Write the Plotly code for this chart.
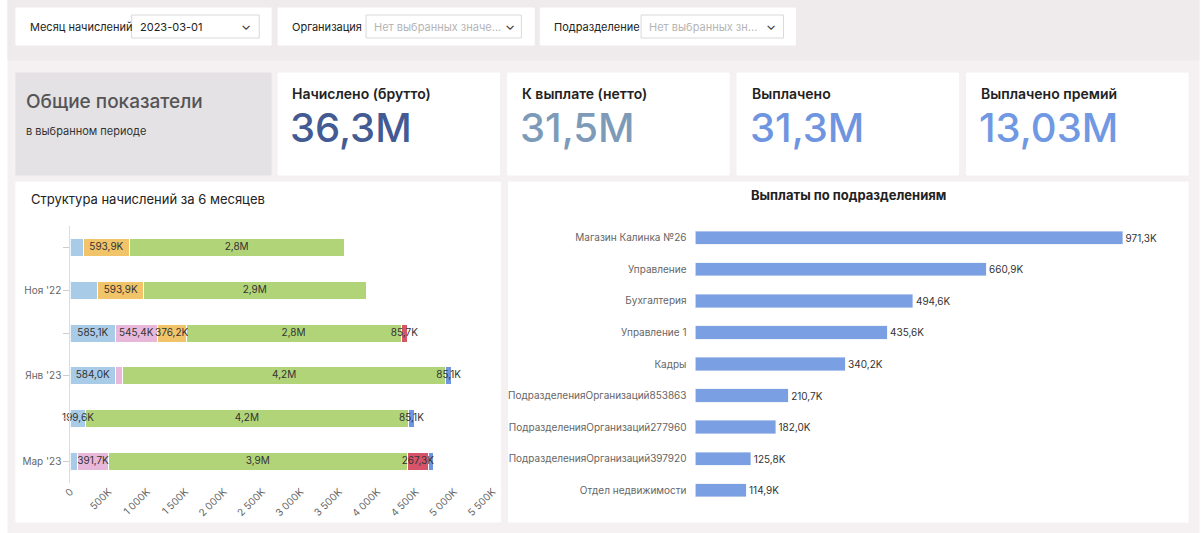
import plotly.graph_objects as go

W, H = 1204, 533

months = ["Окт '22", "Ноя '22", "Дек '22", "Янв '23", "Фев '23", "Мар '23"]
month_ticks = ["", "Ноя '22", "", "Янв '23", "", "Мар '23"]
s_oklad = [172, 358, 585.1, 584.0, 199.6, 100]
s_otpusk = [0, 0, 545.4, 100, 0, 391.7]
s_premia = [593.9, 593.9, 376.2, 0, 0, 0]
s_main = [2800, 2900, 2800, 4200, 4200, 3900]
s_bolnich = [0, 0, 85.7, 0, 0, 267.3]
s_prochee = [0, 0, 0, 85.1, 85.1, 73]
lbl_oklad = ["", "", "585,1K", "584,0K", "199,6K", ""]
lbl_otpusk = ["", "", "545,4K", "", "", "391,7K"]
lbl_premia = ["593,9K", "593,9K", "376,2K", "", "", ""]
lbl_main = ["2,8M", "2,9M", "2,8M", "4,2M", "4,2M", "3,9M"]
lbl_bolnich = ["", "", "85,7K", "", "", "267,3K"]
lbl_prochee = ["", "", "", "85,1K", "85,1K", ""]

depts = ["Магазин Калинка №26", "Управление", "Бухгалтерия", "Управление 1", "Кадры",
         "ПодразделенияОрганизаций853863", "ПодразделенияОрганизаций277960",
         "ПодразделенияОрганизаций397920", "Отдел недвижимости"]
dept_vals = [971.3, 660.9, 494.6, 435.6, 340.2, 210.7, 182.0, 125.8, 114.9]
dept_lbls = ["971,3K", "660,9K", "494,6K", "435,6K", "340,2K", "210,7K", "182,0K", "125,8K", "114,9K"]

kpi_titles = ["Начислено (брутто)", "К выплате (нетто)", "Выплачено", "Выплачено премий"]
kpi_values = ["36,3M", "31,5M", "31,3M", "13,03M"]
kpi_colors = ["#435a93", "#7d9bb8", "#6f95e0", "#7198e3"]

def px(x): return x / W
def py(y): return 1 - y / H

fig = go.Figure()

series = [(s_oklad, lbl_oklad, "#a8cbe8", "Оклад"),
          (s_otpusk, lbl_otpusk, "#e8b8da", "Отпуск"),
          (s_premia, lbl_premia, "#f2c46a", "Премия"),
          (s_main, lbl_main, "#b1d479", "Основное"),
          (s_bolnich, lbl_bolnich, "#d6546a", "Больничный"),
          (s_prochee, lbl_prochee, "#6f95e0", "Прочее")]
base = [0.0] * len(months)
lx, ly, lt = [], [], []
for vals, lbls, col, name in series:
    fig.add_trace(go.Bar(y=months, x=vals, orientation="h", name=name,
                         marker=dict(color=col, line=dict(color="white", width=1)),
                         xaxis="x", yaxis="y", hoverinfo="x+name"))
    for i, v in enumerate(vals):
        if lbls[i]:
            lx.append(base[i] + v / 2); ly.append(months[i]); lt.append(lbls[i])
        base[i] += v
fig.add_trace(go.Scatter(x=lx, y=ly, text=lt, mode="text", textfont=dict(size=10, color="#333"),
                         cliponaxis=False, xaxis="x", yaxis="y", hoverinfo="skip"))

fig.add_trace(go.Bar(y=depts, x=dept_vals, orientation="h", text=dept_lbls,
                     textposition="outside", textfont=dict(size=10, color="#333"),
                     marker=dict(color="#7b9fe3"), cliponaxis=False,
                     xaxis="x2", yaxis="y2"))

shapes = []
def rect(x0, y0, x1, y1, fill, line=None):
    shapes.append(dict(type="rect", xref="paper", yref="paper", x0=px(x0), x1=px(x1),
                       y0=py(y1), y1=py(y0), fillcolor=fill,
                       line=dict(color=line or fill, width=1), layer="below"))

rect(0, 0, 1204, 533, "#f5f0f2")
rect(0, 0, 1204, 60, "#efeaec")
for a, b in [(8, 266), (273, 532), (538, 796)]:
    rect(a, 8, b, 45, "white")
for a, b in [(125, 254), (362, 519), (640, 784)]:
    rect(a, 15, b, 38, "white", "#d9d9d9")
rect(8, 73, 266, 175, "#e4e2e5")
for a, b in [(273, 497), (505, 729), (737, 961), (969, 1193)]:
    rect(a, 73, b, 175, "white")
rect(8, 182, 498, 522, "white")
rect(506, 182, 1193, 522, "white")

ann = []
def text(x, y, t, size, color="#222", anchor="left", weight="normal"):
    ann.append(dict(xref="paper", yref="paper", x=px(x), y=py(y), text=t,
                    showarrow=False, xanchor=anchor, yanchor="middle",
                    font=dict(size=size, color=color, weight=weight)))

text(20, 27, "Месяц начислений", 11)
text(131, 27, "2023-03-01", 11)
text(285, 27, "Организация", 11)
text(368, 27, "Нет выбранных значе...", 11, "#b5b5b5")
text(550, 27, "Подразделение", 11)
text(646, 27, "Нет выбранных зн...", 11, "#b5b5b5")
for x in [241, 507, 771]:
    text(x, 25, "⌄", 13, "#333", "center")
text(16, 101, "Общие показатели", 19, "#555", weight=500)
text(16, 131, "в выбранном периоде", 11, "#333")
for i, x in enumerate([285, 518, 750, 982]):
    text(x, 93, kpi_titles[i], 14, "#222", weight=600)
    text(x - 2, 127, kpi_values[i], 40, kpi_colors[i], weight=500)
text(21, 199, "Структура начислений за 6 месяцев", 13, "#222")
text(850, 195, "Выплаты по подразделениям", 13, "#222", "center", 700)

fig.update_layout(
    width=W, height=H, margin=dict(l=0, r=0, t=0, b=0),
    paper_bgcolor="white", plot_bgcolor="rgba(0,0,0,0)",
    barmode="stack", showlegend=False, shapes=shapes, annotations=ann,
    font=dict(family="Inter, Noto Sans, sans-serif"),
    xaxis=dict(domain=[px(63), px(490)], range=[0, 5500], tickvals=list(range(0, 5501, 500)),
               ticktext=["0"] + ["%sK" % (f"{v:,}".replace(",", " ")) for v in range(500, 5501, 500)],
               tickangle=-45, tickfont=dict(size=10, color="#666"), showgrid=False,
               zeroline=False, anchor="y", showline=False),
    yaxis=dict(domain=[py(483), py(226)], autorange="reversed", tickvals=months,
               ticktext=month_ticks, tickfont=dict(size=10, color="#666"),
               ticks="outside", ticklen=6, tickcolor="#ccc", showline=True, linecolor="#ddd",
               anchor="x"),
    bargap=0.58,
    xaxis2=dict(domain=[px(695), px(1175)], range=[0, 1080], visible=False, anchor="y2"),
    yaxis2=dict(domain=[py(506), py(222)], autorange="reversed", tickfont=dict(size=10, color="#666"),
                ticks="outside", ticklen=6, tickcolor="rgba(0,0,0,0)", anchor="x2"),
)
fig.write_html("out.html", config={"displayModeBar": False},
               post_script="document.body.style.margin='0';document.body.style.overflow='hidden';")
